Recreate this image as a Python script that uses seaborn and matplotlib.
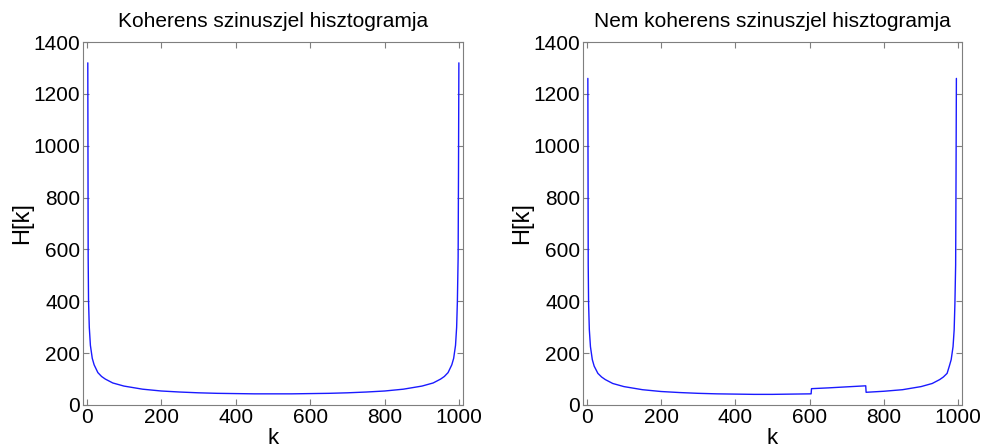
import matplotlib
matplotlib.use("Agg")
import matplotlib.pyplot as plt
import seaborn as sns
import pandas as pd

# ---- data ----
k_coh = [3, 4, 5, 7, 10, 15, 20, 30, 40, 50, 70, 100, 150, 200, 250, 300, 350,
         400, 450, 500, 550, 600, 650, 700, 750, 800, 850, 900, 930, 950, 960,
         970, 980, 985, 990, 993, 995, 997, 998, 999]
h_coh = [1320, 570, 400, 300, 230, 180, 155, 125, 110, 100, 85, 73, 61, 54, 50,
         47, 45, 44, 43, 43, 43, 44, 45, 47, 50, 54, 61, 73, 85, 100, 110,
         125, 155, 180, 230, 300, 400, 570, 900, 1320]

k_inc = [3, 4, 5, 7, 10, 15, 20, 30, 40, 50, 70, 100, 150, 200, 250, 300, 350,
         400, 450, 500, 550, 604, 605, 650, 700, 751, 752, 800, 850, 900, 930,
         950, 960, 970, 976, 981, 986, 989, 991, 993, 994, 995]
h_inc = [1260, 540, 390, 290, 225, 175, 150, 122, 108, 98, 83, 71, 59, 52, 48,
         45, 43, 42, 41, 41, 42, 43, 63, 66, 70, 74, 49, 53, 59, 71, 83,
         98, 108, 122, 150, 175, 225, 290, 390, 540, 860, 1260]

titles = ["Koherens szinuszjel hisztogramja", "Nem koherens szinuszjel hisztogramja"]
x_ticks = [0, 200, 400, 600, 800, 1000]
y_ticks = [0, 200, 400, 600, 800, 1000, 1200, 1400]

sns.set_style("white")
plt.rcParams["font.family"] = ["Liberation Sans", "DejaVu Sans"]

fig = plt.figure(figsize=(9.84, 4.48), dpi=100)
ax1 = fig.add_axes([0.0843, 0.096, 0.3862, 0.810])
ax2 = fig.add_axes([0.5925, 0.096, 0.3851, 0.810])

frame_col = "#7f7f7f"
for ax, kk, hh, ttl in [(ax1, k_coh, h_coh, titles[0]), (ax2, k_inc, h_inc, titles[1])]:
    df = pd.DataFrame({"k": kk, "H": hh})
    sns.lineplot(data=df, x="k", y="H", ax=ax, color="#1a1aff", linewidth=1.0,
                 estimator=None, sort=False)
    ax.set_xlim(-10, 1010)
    ax.set_ylim(0, 1400)
    ax.set_xticks(x_ticks)
    ax.set_yticks(y_ticks)
    ax.set_xticklabels([str(v) for v in x_ticks])
    ax.set_yticklabels([str(v) for v in y_ticks])
    ax.tick_params(direction="in", length=4, width=0.8, color=frame_col,
                   labelsize=15, labelcolor="black", top=True, right=True,
                   bottom=True, left=True, pad=2)
    for sp in ax.spines.values():
        sp.set_visible(True)
        sp.set_color(frame_col)
        sp.set_linewidth(0.8)
    ax.set_title(ttl, fontsize=15, pad=11, color="black")
    ax.set_xlabel("k", fontsize=16, labelpad=1, color="black")
    ax.set_ylabel("H[k]", fontsize=17, labelpad=0, color="black")
    ax.grid(False)

fig.savefig("out.png", dpi=100, facecolor="white")
